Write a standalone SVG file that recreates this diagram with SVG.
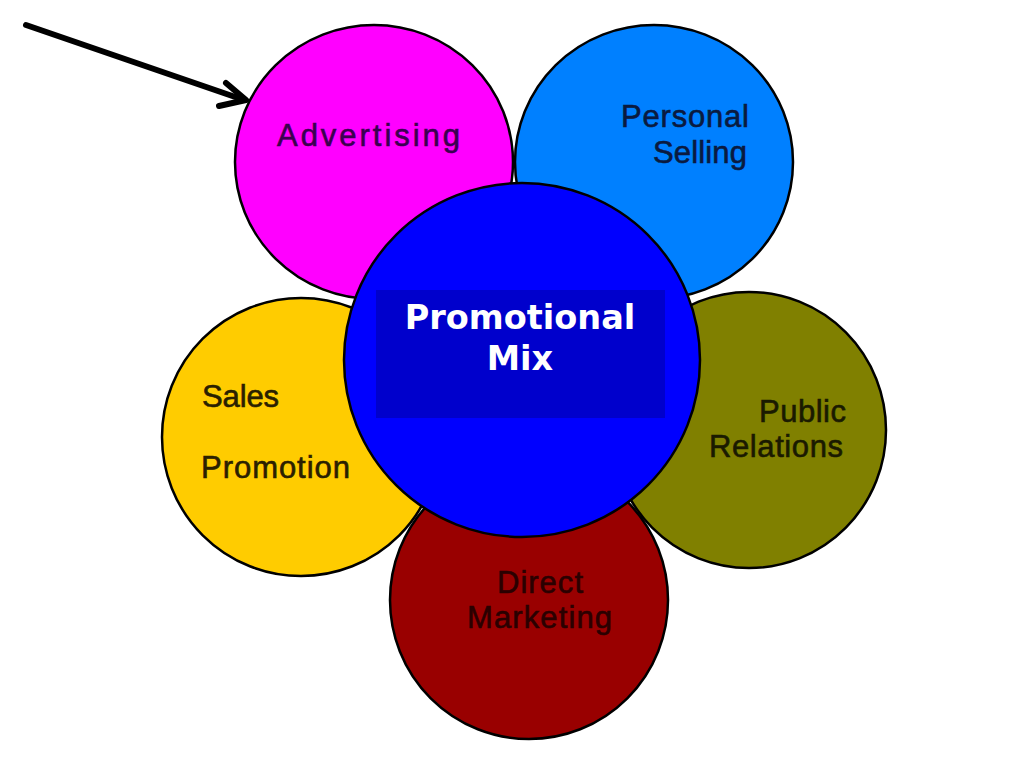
<svg xmlns="http://www.w3.org/2000/svg" width="1024" height="768" viewBox="0 0 1024 768">
<style>
.bubble{stroke:#000;stroke-width:2.5}
.lbl{font-family:"Liberation Sans",Arial,sans-serif;font-size:31px;stroke-width:0.6}
.core{font-family:"DejaVu Sans",Verdana,sans-serif;font-size:33.5px;font-weight:bold;fill:#fff;text-anchor:middle}
</style>
<rect width="1024" height="768" fill="#fff"/>
<g id="advertising">
<ellipse class="bubble" cx="374" cy="162" rx="139" ry="137" fill="#FF00FF"/>
<text class="lbl" x="277" y="146" font-size="33" textLength="183" fill="#3a0050" stroke="#3a0050">Advertising</text>
</g>
<g id="personal-selling">
<ellipse class="bubble" cx="654" cy="162" rx="139" ry="137" fill="#0080FF"/>
<text class="lbl" x="621" y="127" font-size="30" textLength="128" fill="#0a1a40" stroke="#0a1a40">Personal</text>
<text class="lbl" x="653" y="163" font-size="30" textLength="94" fill="#0a1a40" stroke="#0a1a40">Selling</text>
</g>
<g id="public-relations">
<ellipse class="bubble" cx="749" cy="430" rx="137" ry="138" fill="#808000"/>
<text class="lbl" x="759" y="422" textLength="87" fill="#1a1a00" stroke="#1a1a00">Public</text>
<text class="lbl" x="709" y="457" textLength="134" fill="#1a1a00" stroke="#1a1a00">Relations</text>
</g>
<g id="direct-marketing">
<ellipse class="bubble" cx="529" cy="600" rx="139" ry="139" fill="#990000"/>
<text class="lbl" x="497" y="593" textLength="86" fill="#2a0000" stroke="#2a0000">Direct</text>
<text class="lbl" x="467" y="628" textLength="145" fill="#2a0000" stroke="#2a0000">Marketing</text>
</g>
<g id="sales-promotion">
<ellipse class="bubble" cx="301" cy="437" rx="139" ry="139" fill="#FFCC00"/>
<text class="lbl" x="202" y="407" textLength="77" fill="#2a2000" stroke="#2a2000">Sales</text>
<text class="lbl" x="201" y="478" textLength="149" fill="#2a2000" stroke="#2a2000">Promotion</text>
</g>
<g id="promotional-mix">
<ellipse class="bubble" cx="522" cy="360" rx="178" ry="177" fill="#0000FF"/>
<rect x="376" y="290" width="289" height="128" fill="#0000CC"/>
<text class="core" x="520" y="329">Promotional</text>
<text class="core" x="520" y="370">Mix</text>
</g>
<g id="connectors" fill="none" stroke="#000" stroke-width="6" stroke-linecap="round" stroke-linejoin="round">
<line x1="26" y1="25" x2="244" y2="100"/>
<polyline points="226,83 246,100 219,106"/>
</g>
</svg>
